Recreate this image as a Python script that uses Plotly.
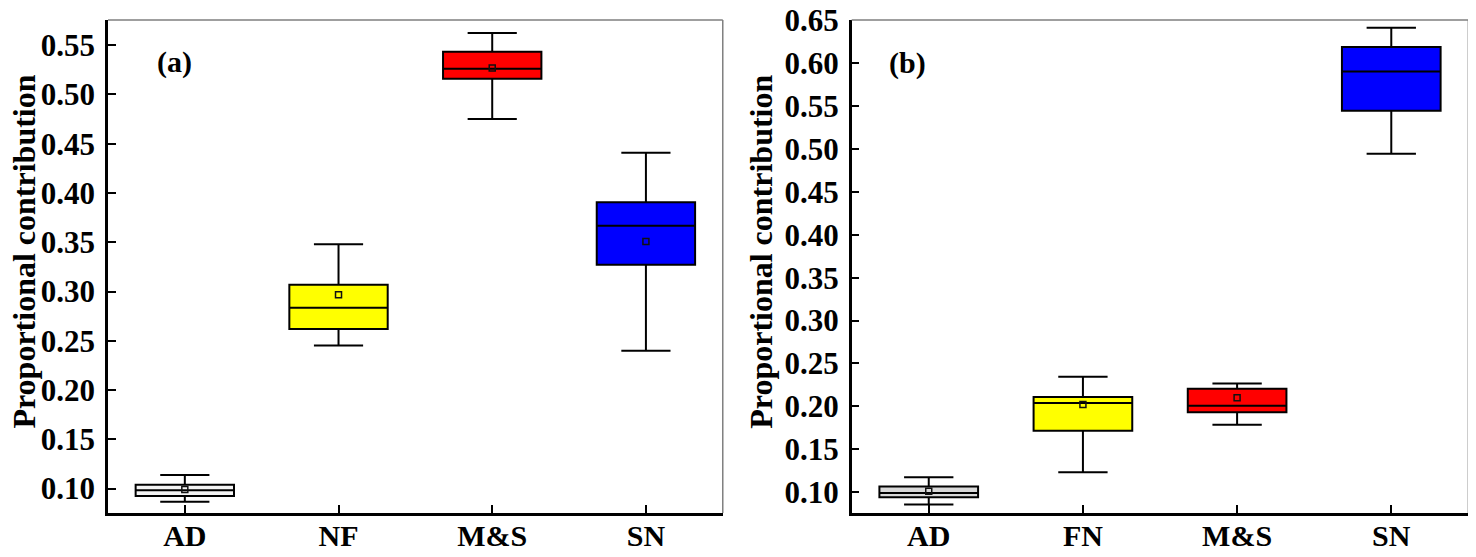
import plotly.graph_objects as go

# panel (a)
cats_a = ['AD', 'NF', 'M&S', 'SN']
low_a = [0.0866, 0.2451, 0.4750, 0.2400]
q1_a = [0.0924, 0.2619, 0.5159, 0.3272]
med_a = [0.0982, 0.2836, 0.5260, 0.3667]
q3_a = [0.1038, 0.3069, 0.5433, 0.3906]
high_a = [0.1137, 0.3480, 0.5625, 0.4409]
mean_a = [0.0990, 0.2968, 0.5270, 0.3508]
fill_a = ['#f4f4f4', '#ffff00', '#ff0000', '#0000ff']

# panel (b)
cats_b = ['AD', 'FN', 'M&S', 'SN']
low_b = [0.0855, 0.1232, 0.1784, 0.4945]
q1_b = [0.0940, 0.1716, 0.1931, 0.5448]
med_b = [0.0989, 0.2040, 0.2008, 0.5904]
q3_b = [0.1066, 0.2110, 0.2204, 0.6190]
high_b = [0.1174, 0.2346, 0.2265, 0.6414]
mean_b = [0.1010, 0.2020, 0.2100, None]
fill_b = ['#d9d9d9', '#ffff00', '#ff0000', '#0000ff']

FONT = 'Liberation Serif'

fig = go.Figure()

panels = [
    (cats_a, low_a, q1_a, med_a, q3_a, high_a, mean_a, fill_a, 'x', 'y'),
    (cats_b, low_b, q1_b, med_b, q3_b, high_b, mean_b, fill_b, 'x2', 'y2'),
]
for cats, lo, q1, med, q3, hi, mn, fills, xa, ya in panels:
    for i, c in enumerate(cats):
        fig.add_trace(go.Box(
            x=[c], q1=[q1[i]], median=[med[i]], q3=[q3[i]],
            lowerfence=[lo[i]], upperfence=[hi[i]],
            fillcolor=fills[i], line=dict(color='black', width=2),
            width=0.64, whiskerwidth=0.5, boxpoints=False,
            xaxis=xa, yaxis=ya, showlegend=False, hoverinfo='skip'))
    fig.add_trace(go.Scatter(
        x=cats, y=mn, mode='markers', xaxis=xa, yaxis=ya,
        marker=dict(symbol='square-open', size=6, color='#111111',
                    line=dict(width=1.5)),
        showlegend=False, hoverinfo='skip'))

axis_common = dict(
    showline=True, linecolor='black', linewidth=2.5,
    ticks='inside', ticklen=8, tickwidth=2, tickcolor='black',
    showgrid=False, zeroline=False, automargin=False,
)
xtick_font = dict(family=FONT, size=30, color='black', weight='bold')
ytick_font = dict(family=FONT, size=31, color='black', weight='bold')
title_font = dict(family=FONT, size=32, color='black', weight='bold')

# page body keeps an 8px margin, so the figure is 8px smaller than the window
fig.update_layout(
    width=1468, height=549,
    margin=dict(l=0, r=0, t=12, b=44),
    paper_bgcolor='white', plot_bgcolor='white',
    font=dict(family=FONT, color='black'),
    xaxis=dict(domain=[0.0681, 0.4869], type='category', range=[-0.5, 3.5],
               categoryorder='array', categoryarray=cats_a, anchor='y',
               tickfont=xtick_font, ticklabelstandoff=-6, **axis_common),
    xaxis2=dict(domain=[0.5747, 0.9948], type='category', range=[-0.5, 3.5],
                categoryorder='array', categoryarray=cats_b, anchor='y2',
                tickfont=xtick_font, ticklabelstandoff=-6, **axis_common),
    yaxis=dict(domain=[0, 1], range=[0.0752, 0.5756],
               tickvals=[0.10, 0.15, 0.20, 0.25, 0.30, 0.35, 0.40, 0.45, 0.50, 0.55],
               tickformat='.2f', anchor='x', tickfont=ytick_font, ticklabelstandoff=4,
               ticklabeloverflow='allow', **axis_common),
    yaxis2=dict(domain=[0, 1], range=[0.0756, 0.6505],
                tickvals=[0.10, 0.15, 0.20, 0.25, 0.30, 0.35, 0.40, 0.45, 0.50, 0.55, 0.60, 0.65],
                tickformat='.2f', anchor='x2', tickfont=ytick_font, ticklabelstandoff=4,
                ticklabeloverflow='allow', **axis_common),
)

# y-axis titles
for xpos in [0.0108, 0.5130]:
    fig.add_annotation(text='Proportional contribution', xref='paper', yref='paper',
                       x=xpos, y=0.530, xanchor='center', yanchor='middle',
                       textangle=-90, showarrow=False, font=title_font)

# thin grey top and right frame lines
for xa, ya in [('x', 'y'), ('x2', 'y2')]:
    fig.add_shape(type='line', xref=xa + ' domain', yref=ya + ' domain',
                  x0=0, x1=1, y0=1, y1=1, line=dict(color='#7f7f7f', width=1.5))
    fig.add_shape(type='line', xref=xa + ' domain', yref=ya + ' domain',
                  x0=1, x1=1, y0=0, y1=1, line=dict(color='#7f7f7f', width=1.5))

fig.add_annotation(text='(a)', xref='x domain', yref='y domain', x=0.109, y=0.915,
                   xanchor='center', yanchor='middle', showarrow=False,
                   font=dict(family=FONT, size=30, color='black', weight='bold'))
fig.add_annotation(text='(b)', xref='x2 domain', yref='y2 domain', x=0.091, y=0.913,
                   xanchor='center', yanchor='middle', showarrow=False,
                   font=dict(family=FONT, size=30, color='black', weight='bold'))

fig.write_html('out.html')
